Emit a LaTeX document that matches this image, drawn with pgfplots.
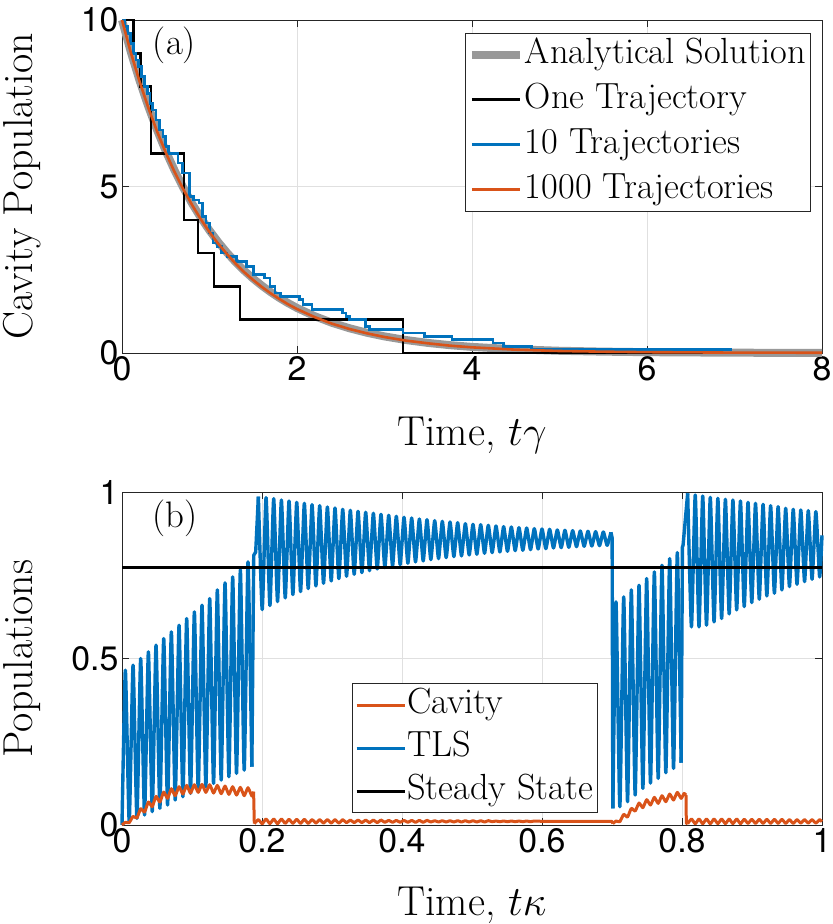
\RequirePackage{fix-cm}
\documentclass[border=0pt]{standalone}
\usepackage{fontspec}
\usepackage{pgfplots}
\pgfplotsset{compat=1.18}
\newfontfamily\tickfont{TeX Gyre Heros}
\definecolor{mblue}{rgb}{0,0.447,0.741}
\definecolor{morange}{rgb}{0.85,0.325,0.098}
\definecolor{mgray}{rgb}{0.6,0.6,0.6}
\definecolor{axgray}{rgb}{0.15,0.15,0.15}
\definecolor{gridgray}{rgb}{0.88,0.88,0.88}
\pgfplotsset{common/.style={
  scale only axis, width=700bp, height=333bp,
  axis line style={axgray, line width=0.8bp},
  every tick/.style={axgray, line width=0.8bp},
  major tick length=7bp,
  tick align=inside,
  grid=major, major grid style={gridgray, line width=0.8bp},
  tick label style={font=\fontsize{34}{40}\selectfont\tickfont},
  /pgf/number format/assume math mode=true,
  label style={font=\fontsize{42}{50}\selectfont},
  legend cell align=left,
  legend image code/.code={\draw[#1] (0bp,0bp) -- (48bp,0bp);},
  clip=false,
},
tls/.style={mblue, line width=3.4bp, line join=round, forget plot},
cav/.style={morange, line width=3bp, line join=round, forget plot},
sm/.style={smooth, tension=0.3},
}
\begin{document}
\begin{tikzpicture}
\path[use as bounding box] (0,0) rectangle (833bp,-924bp);
% ---------------- (a)
\begin{axis}[common, at={(122bp,-353bp)}, anchor=south west,
  xmin=0, xmax=8, ymin=0, ymax=10,
  xtick={0,2,4,6,8}, ytick={0,5,10},
  xlabel={Time, $t\gamma$}, ylabel={Cavity Population},
  xlabel style={at={(axis description cs:0.5,-0.246)}, anchor=center},
  ylabel style={at={(axis description cs:-0.143,0.5)}, anchor=center},
  legend style={at={(0.983,0.961)}, anchor=north east, draw=axgray, line width=0.6bp,
    font=\fontsize{36.5}{42}\selectfont, inner sep=3bp, row sep=8bp,
    nodes={inner sep=1bp, text height=26bp, text depth=9bp}},
]
\addplot[mgray, line width=8bp] coordinates {
(0,10) (0.1,9.048) (0.2,8.187) (0.3,7.408) (0.4,6.703) (0.5,6.065) (0.6,5.488)
(0.7,4.966) (0.8,4.493) (0.9,4.066) (1.0,3.679) (1.1,3.329) (1.2,3.012) (1.3,2.725)
(1.4,2.466) (1.5,2.231) (1.6,2.019) (1.7,1.827) (1.8,1.653) (1.9,1.496) (2.0,1.353)
(2.2,1.108) (2.4,0.907) (2.6,0.743) (2.8,0.608) (3.0,0.498) (3.25,0.388) (3.5,0.302)
(3.75,0.235) (4.0,0.183) (4.5,0.111) (5.0,0.067) (5.5,0.041) (6.0,0.025) (7.0,0.009) (8.0,0.003)};
\addlegendentry{Analytical Solution}
\addplot[black, line width=2.6bp, const plot] coordinates {
(0,10) (0.13,9) (0.21,8) (0.33,6) (0.71,4) (0.87,3) (1.05,2) (1.35,1) (3.21,0) (8,0)};
\addlegendentry{One Trajectory}
\addplot[mblue, line width=2.6bp, const plot] coordinates {
(0,10) (0.03,9.8) (0.06,9.6) (0.10,9.3) (0.13,9.0) (0.16,8.8) (0.19,8.6) (0.22,8.3)
(0.26,8.0) (0.29,7.8) (0.32,7.5) (0.35,7.3) (0.39,7.0) (0.43,6.7) (0.47,6.5) (0.50,6.2)
(0.53,6.0) (0.64,5.7) (0.69,5.4) (0.77,4.7) (0.82,4.6) (0.88,4.5) (0.92,4.1) (0.96,3.9)
(1.00,3.6) (1.04,3.3) (1.09,3.2) (1.14,3.0) (1.20,2.9) (1.31,2.75) (1.42,2.6) (1.50,2.35)
(1.63,2.25) (1.69,2.0) (1.75,1.8) (1.81,1.7) (2.03,1.6) (2.07,1.45) (2.17,1.3) (2.52,1.2)
(2.56,1.1) (2.60,1.0) (2.78,0.8) (2.83,0.7) (3.21,0.6) (3.46,0.5) (3.77,0.4) (4.24,0.3)
(4.36,0.2) (4.68,0.1) (6.97,0.1)};
\addlegendentry{10 Trajectories}
\addplot[morange, line width=2.6bp] coordinates {
(0,10) (0.1,9.03) (0.2,8.16) (0.3,7.37) (0.4,6.66) (0.5,6.02) (0.6,5.44)
(0.7,4.92) (0.8,4.45) (0.9,4.02) (1.0,3.63) (1.1,3.28) (1.2,2.97) (1.3,2.68)
(1.4,2.42) (1.5,2.19) (1.6,1.98) (1.7,1.79) (1.8,1.62) (1.9,1.46) (2.0,1.32)
(2.2,1.08) (2.4,0.88) (2.6,0.72) (2.8,0.59) (3.0,0.48) (3.25,0.37) (3.5,0.29)
(3.75,0.22) (4.0,0.17) (4.5,0.10) (5.0,0.06) (5.5,0.04) (6.0,0.025) (7.0,0.012) (8.0,0.008)};
\addlegendentry{1000 Trajectories}
\node[font=\fontsize{37}{44}\selectfont] at (axis cs:0.6,9.25) {(a)};
\end{axis}
% ---------------- (b)
\begin{axis}[common, at={(122bp,-825bp)}, anchor=south west,
  xmin=0, xmax=1, ymin=0, ymax=1,
  xtick={0,0.2,0.4,0.6,0.8,1}, ytick={0,0.5,1},
  xlabel={Time, $t\kappa$}, ylabel={Populations},
  xlabel style={at={(axis description cs:0.5,-0.240)}, anchor=center},
  ylabel style={at={(axis description cs:-0.143,0.5)}, anchor=center},
  legend style={at={(0.679,0.036)}, anchor=south east, draw=axgray, line width=0.6bp,
    font=\fontsize{36.5}{42}\selectfont, inner sep=3bp, row sep=6bp,
    nodes={inner sep=1bp, text height=26bp, text depth=9bp}},
]
\addlegendimage{morange, line width=3bp}
\addlegendentry{Cavity}
\addlegendimage{mblue, line width=3bp}
\addlegendentry{TLS}
\addlegendimage{black, line width=3bp}
\addlegendentry{Steady State}
% TLS, segment A
\addplot[tls, sm] coordinates {
(0,0.0)
(0.0048,0.465) (0.0103,0.010) (0.0158,0.480) (0.0213,0.020) (0.0267,0.500) (0.0322,0.030)
(0.0377,0.520) (0.0432,0.040) (0.0486,0.540) (0.0541,0.050) (0.0596,0.560) (0.0651,0.060)
(0.0705,0.580) (0.0760,0.075) (0.0815,0.600) (0.0870,0.085) (0.0924,0.620) (0.0979,0.095)
(0.1034,0.640) (0.1089,0.105) (0.1143,0.660) (0.1198,0.115) (0.1253,0.680) (0.1308,0.125)
(0.1362,0.706) (0.1417,0.135) (0.1472,0.727) (0.1527,0.145) (0.1581,0.745) (0.1636,0.155)
(0.1691,0.766) (0.1746,0.165) (0.1800,0.790) (0.1855,0.175)};
\addplot[tls] coordinates {(0.1855,0.175) (0.1878,0.720) (0.1882,0.810) (0.1910,0.820) (0.1948,0.986)};
% TLS, segment B
\addplot[tls, sm] coordinates {
(0.1948,0.986)
(0.2003,0.647) (0.2058,0.983) (0.2113,0.659) (0.2167,0.980) (0.2222,0.671) (0.2277,0.976)
(0.2332,0.682) (0.2386,0.973) (0.2441,0.692) (0.2496,0.969) (0.2551,0.701) (0.2605,0.966)
(0.2660,0.710) (0.2715,0.962) (0.2770,0.718) (0.2824,0.959) (0.2879,0.726) (0.2934,0.955)
(0.2989,0.733) (0.3043,0.952) (0.3098,0.740) (0.3153,0.948) (0.3208,0.747) (0.3262,0.945)
(0.3317,0.753) (0.3372,0.942) (0.3427,0.758) (0.3481,0.939) (0.3536,0.764) (0.3591,0.936)
(0.3646,0.769) (0.3700,0.933) (0.3755,0.773) (0.3810,0.930) (0.3865,0.778) (0.3919,0.927)
(0.3974,0.782) (0.4029,0.924) (0.4084,0.786) (0.4138,0.922) (0.4193,0.790) (0.4248,0.919)
(0.4303,0.793) (0.4357,0.917) (0.4412,0.797) (0.4467,0.914) (0.4522,0.800) (0.4576,0.912)
(0.4631,0.803) (0.4686,0.910) (0.4741,0.806) (0.4795,0.908) (0.4850,0.808) (0.4905,0.905)
(0.4960,0.811) (0.5014,0.903) (0.5069,0.813) (0.5124,0.902) (0.5179,0.816) (0.5233,0.900)
(0.5288,0.818) (0.5343,0.898) (0.5398,0.820) (0.5452,0.896) (0.5507,0.822) (0.5562,0.895)
(0.5617,0.824) (0.5671,0.893) (0.5726,0.825) (0.5781,0.892) (0.5836,0.827) (0.5890,0.890)
(0.5945,0.829) (0.6000,0.889) (0.6055,0.830) (0.6109,0.888) (0.6164,0.832) (0.6219,0.886)
(0.6274,0.833) (0.6328,0.885) (0.6383,0.834) (0.6438,0.884) (0.6493,0.836) (0.6547,0.883)
(0.6602,0.837) (0.6657,0.882) (0.6712,0.838) (0.6766,0.881) (0.6821,0.839) (0.6876,0.880)
(0.6931,0.840) (0.6985,0.879)};
\addplot[tls] coordinates {(0.6985,0.879) (0.7002,0.862) (0.7012,0.050)};
% TLS, segment C
\addplot[tls, sm] coordinates {
(0.7012,0.050)
(0.7057,0.670) (0.7112,0.055) (0.7167,0.685) (0.7222,0.070) (0.7276,0.706) (0.7331,0.090)
(0.7386,0.720) (0.7441,0.110) (0.7495,0.740) (0.7550,0.126) (0.7605,0.760) (0.7660,0.140)
(0.7714,0.780) (0.7769,0.157) (0.7824,0.800) (0.7879,0.170) (0.7933,0.818) (0.7988,0.187)};
\addplot[tls] coordinates {(0.7988,0.187) (0.8003,0.720) (0.8006,0.835) (0.8015,0.840) (0.8081,0.996)};
% TLS, segment D
\addplot[tls, sm] coordinates {
(0.8081,0.996)
(0.8135,0.595) (0.8189,0.991) (0.8243,0.595) (0.8296,0.988) (0.8350,0.600) (0.8404,0.984)
(0.8458,0.610) (0.8512,0.981) (0.8566,0.620) (0.8620,0.978) (0.8674,0.634) (0.8727,0.976)
(0.8781,0.646) (0.8835,0.973) (0.8889,0.656) (0.8943,0.969) (0.8997,0.668) (0.9050,0.966)
(0.9104,0.678) (0.9158,0.963) (0.9212,0.688) (0.9266,0.959) (0.9320,0.696) (0.9373,0.956)
(0.9427,0.706) (0.9481,0.951) (0.9535,0.716) (0.9589,0.948) (0.9643,0.723) (0.9697,0.946)
(0.9751,0.731) (0.9804,0.944) (0.9858,0.738) (0.9912,0.941) (0.9966,0.745) (1.0000,0.870)};
% Cavity
\addplot[cav, sm] coordinates {
(0,0.000)
(0.0048,0.008) (0.0103,0.007) (0.0158,0.026) (0.0213,0.021) (0.0267,0.049) (0.0322,0.039)
(0.0377,0.069) (0.0432,0.055) (0.0486,0.086) (0.0541,0.069) (0.0596,0.099) (0.0651,0.080)
(0.0705,0.109) (0.0760,0.088) (0.0815,0.115) (0.0870,0.093) (0.0924,0.119) (0.0979,0.096)
(0.1034,0.121) (0.1089,0.098) (0.1143,0.122) (0.1198,0.098) (0.1253,0.121) (0.1308,0.096)
(0.1362,0.119) (0.1417,0.094) (0.1472,0.117) (0.1527,0.092) (0.1581,0.115) (0.1636,0.090)
(0.1691,0.113) (0.1746,0.088) (0.1800,0.112) (0.1855,0.087) (0.1880,0.100)};
\addplot[cav] coordinates {(0.1880,0.100) (0.1890,0.004)};
\addplot[cav, sm] coordinates {
(0.1890,0.004)
(0.1948,0.016) (0.2003,0.004) (0.2058,0.018) (0.2113,0.004) (0.2167,0.018) (0.2222,0.004)
(0.2277,0.018) (0.2332,0.005) (0.2386,0.017) (0.2441,0.005) (0.2496,0.017) (0.2551,0.005)
(0.2605,0.017) (0.2660,0.005) (0.2715,0.016) (0.2770,0.006) (0.2824,0.016) (0.2879,0.006)
(0.2934,0.016) (0.2989,0.006) (0.3043,0.016) (0.3098,0.006) (0.3153,0.016) (0.3208,0.007)
(0.3262,0.015) (0.3317,0.007) (0.3372,0.015) (0.3427,0.007) (0.3481,0.015) (0.3536,0.007)
(0.3591,0.015) (0.3646,0.007) (0.3700,0.015) (0.3755,0.008) (0.3810,0.014) (0.3865,0.008)
(0.3919,0.014) (0.3974,0.008) (0.4029,0.014) (0.4084,0.008) (0.4138,0.014) (0.4193,0.008)
(0.4248,0.014) (0.4303,0.008) (0.4357,0.014) (0.4412,0.009) (0.4467,0.013) (0.4522,0.009)
(0.4576,0.013) (0.4631,0.009) (0.4686,0.013) (0.4741,0.009) (0.4795,0.013) (0.4850,0.009)
(0.4905,0.013) (0.4960,0.009) (0.5014,0.013) (0.5069,0.009) (0.5124,0.013) (0.5179,0.009)
(0.5233,0.013) (0.5288,0.010) (0.5343,0.012) (0.5398,0.010) (0.5452,0.012) (0.5507,0.010)
(0.5562,0.012) (0.5617,0.010) (0.5671,0.012) (0.5726,0.010) (0.5781,0.012) (0.5836,0.010)
(0.5890,0.012) (0.6000,0.011)};
\addplot[cav] coordinates {(0.6000,0.011) (0.7000,0.011) (0.7012,0.004)};
\addplot[cav, sm] coordinates {
(0.7012,0.004)
(0.7057,0.012) (0.7112,0.010) (0.7167,0.032) (0.7222,0.024) (0.7276,0.050) (0.7331,0.042)
(0.7386,0.066) (0.7441,0.052) (0.7495,0.076) (0.7550,0.060) (0.7605,0.083) (0.7660,0.065)
(0.7714,0.088) (0.7769,0.070) (0.7824,0.093) (0.7879,0.075) (0.7933,0.098) (0.7988,0.080)
(0.8030,0.095) (0.8057,0.090)};
\addplot[cav] coordinates {(0.8057,0.090) (0.8062,0.005) (0.8081,0.004)};
\addplot[cav, sm] coordinates {
(0.8081,0.004) (0.8135,0.018) (0.8189,0.004) (0.8243,0.018) (0.8296,0.004) (0.8350,0.018)
(0.8404,0.004) (0.8458,0.018) (0.8512,0.004) (0.8566,0.018) (0.8620,0.004) (0.8674,0.018)
(0.8727,0.004) (0.8781,0.018) (0.8835,0.004) (0.8889,0.017) (0.8943,0.005) (0.8997,0.017)
(0.9050,0.005) (0.9104,0.017) (0.9158,0.005) (0.9212,0.017) (0.9266,0.005) (0.9320,0.017)
(0.9373,0.005) (0.9427,0.017) (0.9481,0.005) (0.9535,0.016) (0.9589,0.005) (0.9643,0.016)
(0.9697,0.006) (0.9751,0.016) (0.9804,0.006) (0.9858,0.016) (0.9912,0.006) (0.9966,0.016)
(1.0000,0.010)};
\addplot[black, line width=3bp, forget plot] coordinates {(0,0.773) (1,0.773)};
\node[font=\fontsize{37}{44}\selectfont] at (axis cs:0.0757,0.92) {(b)};
\end{axis}
\end{tikzpicture}
\end{document}
